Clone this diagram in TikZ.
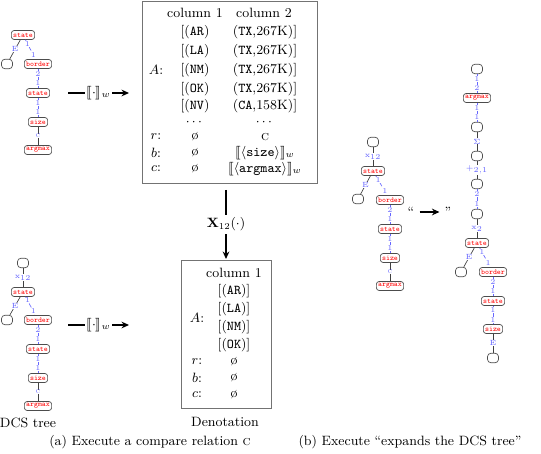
\documentclass[tikz,border=0pt]{standalone}
\usepackage{amsmath, amssymb}
\usepackage{stmaryrd}
\usetikzlibrary{arrows.meta}

\begin{document}
\begin{tikzpicture}[
    x=0.6667pt, y=-0.6667pt,
    font=\fontsize{9}{11}\selectfont,
    pred/.style={rectangle, rounded corners=1.8pt, draw=black!70, line width=0.45pt, text=red,
      font=\fontsize{5}{6}\selectfont\ttfamily, inner xsep=1.1pt, inner ysep=0.8pt, minimum height=6pt},
    emptynode/.style={rectangle, rounded corners=2.2pt, draw=black!70, line width=0.45pt,
      minimum width=7.3pt, minimum height=6.3pt, inner sep=0pt},
    rel/.style={draw=black!75, line width=0.45pt},
    joinrel/.style={draw=blue!60, line width=0.45pt, densely dashed},
    lbl/.style={text=blue!60, font=\fontsize{5}{5}\selectfont, fill=white, inner sep=0.3pt},
    arrow/.style={-{Stealth[length=5pt, width=4.5pt]}, line width=1pt},
    tablebox/.style={draw=black!55, line width=0.6pt},
    cell/.style={inner sep=0.8pt}
  ]
  \useasboundingbox (0,0) rectangle (541,454);

  % DCS tree (top)
  \node[pred] (s1) at (23,35) {state};
  \node[emptynode] (e1) at (7,64) {};
  \node[pred] (b1) at (38,64) {border};
  \node[pred] (s2) at (38,93) {state};
  \node[pred] (z1) at (38,122) {size};
  \node[pred] (a1) at (38,150) {argmax};
  \draw[rel] (s1) -- node[lbl] {E} (e1);
  \draw[joinrel] (s1) -- node[lbl, pos=0.2] {1} node[lbl, pos=0.8] {1} (b1);
  \draw[joinrel] (b1) -- node[lbl, pos=0.25] {2} node[lbl, pos=0.75] {1} (s2);
  \draw[joinrel] (s2) -- node[lbl, pos=0.25] {1} node[lbl, pos=0.75] {1} (z1);
  \draw[rel] (z1) -- node[lbl] {\textsc{c}} (a1);

  % DCS tree (bottom)
  \node[emptynode] (t0) at (23,263) {};
  \node[pred] (t1) at (23,292) {state};
  \node[emptynode] (t2) at (7,320) {};
  \node[pred] (t3) at (38,320) {border};
  \node[pred] (t4) at (38,349) {state};
  \node[pred] (t5) at (38,378) {size};
  \node[pred] (t6) at (38,406) {argmax};
  \draw[rel] (t0) -- node[lbl] {x$_{12}$} (t1);
  \draw[rel] (t1) -- node[lbl] {E} (t2);
  \draw[joinrel] (t1) -- node[lbl, pos=0.2] {1} node[lbl, pos=0.8] {1} (t3);
  \draw[joinrel] (t3) -- node[lbl, pos=0.25] {2} node[lbl, pos=0.75] {1} (t4);
  \draw[joinrel] (t4) -- node[lbl, pos=0.25] {1} node[lbl, pos=0.75] {1} (t5);
  \draw[rel] (t5) -- node[lbl] {\textsc{c}} (t6);
  \node[cell] (dcs) at (28,423) {DCS tree};

  % Evaluation arrows
  \coordinate (w1a) at (68,93);
  \coordinate (w1b) at (129,93);
  \draw[arrow] (w1a) -- node[fill=white, inner sep=1pt] {$\llbracket\cdot\rrbracket_w$} (w1b);
  \coordinate (w2a) at (68,325);
  \coordinate (w2b) at (129,325);
  \draw[arrow] (w2a) -- node[fill=white, inner sep=1pt] {$\llbracket\cdot\rrbracket_w$} (w2b);

  % Denotation before the compare
  \draw[tablebox] (142,1) rectangle (317,183);
  \node[cell] (h1) at (195,13) {column 1};
  \node[cell] (h2) at (264,13) {column 2};
  \node[cell] (la) at (156,70) {$A$:};
  \node[cell] (c11) at (195,32) {[(\texttt{AR})};
  \node[cell] (c12) at (195,51) {[(\texttt{LA})};
  \node[cell] (c13) at (195,70) {[(\texttt{NM})};
  \node[cell] (c14) at (195,89) {[(\texttt{OK})};
  \node[cell] (c15) at (195,106) {[(\texttt{NV})};
  \node[cell] (c21) at (265,32) {(\texttt{TX},267K)]};
  \node[cell] (c22) at (265,51) {(\texttt{TX},267K)]};
  \node[cell] (c23) at (265,70) {(\texttt{TX},267K)]};
  \node[cell] (c24) at (265,89) {(\texttt{TX},267K)]};
  \node[cell] (c25) at (265,106) {(\texttt{CA},158K)]};
  \node[cell, inner sep=0pt] (d1) at (195,122) {$\cdots$};
  \node[cell, inner sep=0pt] (d2) at (265,122) {$\cdots$};
  \node[cell] (lr) at (156,137) {$r$:};
  \node[cell] (lb) at (156,153) {$b$:};
  \node[cell] (lc) at (156,169) {$c$:};
  \node[cell] (r1) at (195,137) {\o};
  \node[cell] (b1v) at (195,153) {\o};
  \node[cell] (c1v) at (195,169) {\o};
  \node[cell] (r2) at (265,137) {\textsc{c}};
  \node[cell] (b2v) at (265,153) {$\llbracket\langle\texttt{size}\rangle\rrbracket_w$};
  \node[cell] (c2v) at (265,169) {$\llbracket\langle\texttt{argmax}\rangle\rrbracket_w$};

  % Execute
  \coordinate (xa) at (226,190);
  \coordinate (xb) at (226,259);
  \draw[arrow] (xa) -- node[fill=white, inner sep=2pt] {$\mathbf{X}_{12}(\cdot)$} (xb);

  % Denotation after the compare
  \draw[tablebox] (181,260) rectangle (271,408);
  \node[cell] (g0) at (234,273) {column 1};
  \node[cell] (ga) at (197,318) {$A$:};
  \node[cell] (g1) at (234,291) {[(\texttt{AR})]};
  \node[cell] (g2) at (234,309) {[(\texttt{LA})]};
  \node[cell] (g3) at (234,327) {[(\texttt{NM})]};
  \node[cell] (g4) at (234,345) {[(\texttt{OK})]};
  \node[cell] (gr) at (197,362) {$r$:};
  \node[cell] (gb) at (197,378) {$b$:};
  \node[cell] (gc) at (197,395) {$c$:};
  \node[cell] (gr1) at (234,362) {\o};
  \node[cell] (gb1) at (234,378) {\o};
  \node[cell] (gc1) at (234,395) {\o};
  \node[cell] (den) at (225,422) {Denotation};

  % DCS tree (middle)
  \node[emptynode] (m0) at (373,142) {};
  \node[pred] (m1) at (373,171) {state};
  \node[emptynode] (m2) at (358,199) {};
  \node[pred] (m3) at (390,200) {border};
  \node[pred] (m4) at (390,229) {state};
  \node[pred] (m5) at (390,258) {size};
  \node[pred] (m6) at (390,286) {argmax};
  \draw[rel] (m0) -- node[lbl] {x$_{12}$} (m1);
  \draw[rel] (m1) -- node[lbl] {E} (m2);
  \draw[joinrel] (m1) -- node[lbl, pos=0.2] {1} node[lbl, pos=0.8] {1} (m3);
  \draw[joinrel] (m3) -- node[lbl, pos=0.25] {2} node[lbl, pos=0.75] {1} (m4);
  \draw[joinrel] (m4) -- node[lbl, pos=0.25] {1} node[lbl, pos=0.75] {1} (m5);
  \draw[rel] (m5) -- node[lbl] {\textsc{c}} (m6);

  % Expansion
  \node (lq) at (411,212) {``};
  \node (rq) at (448,212) {''};
  \draw[arrow] (lq) -- (rq);

  % DCS tree (expanded)
  \node[emptynode] (n0) at (477,69) {};
  \node[pred] (n1) at (477,98) {argmax};
  \node[emptynode] (n2) at (477,127) {};
  \node[emptynode] (n3) at (477,156) {};
  \node[emptynode] (n4) at (477,184) {};
  \node[emptynode] (n5) at (477,214) {};
  \node[pred] (n6) at (477,243) {state};
  \node[emptynode] (n7) at (461,272) {};
  \node[pred] (n8) at (493,272) {border};
  \node[pred] (n9) at (493,301) {state};
  \node[pred] (n10) at (493,329) {size};
  \node[emptynode] (n11) at (493,358) {};
  \draw[joinrel] (n0) -- node[lbl, pos=0.25] {1} node[lbl, pos=0.75] {2} (n1);
  \draw[joinrel] (n1) -- node[lbl, pos=0.25] {1} node[lbl, pos=0.75] {1} (n2);
  \draw[rel] (n2) -- node[lbl] {$\Sigma$} (n3);
  \draw[rel] (n3) -- node[lbl] {$+_{2,1}$} (n4);
  \draw[joinrel] (n4) -- node[lbl, pos=0.25] {2} node[lbl, pos=0.75] {1} (n5);
  \draw[rel] (n5) -- node[lbl] {x$_{2}$} (n6);
  \draw[rel] (n6) -- node[lbl] {E} (n7);
  \draw[joinrel] (n6) -- node[lbl, pos=0.2] {1} node[lbl, pos=0.8] {1} (n8);
  \draw[joinrel] (n8) -- node[lbl, pos=0.25] {2} node[lbl, pos=0.75] {1} (n9);
  \draw[joinrel] (n9) -- node[lbl, pos=0.25] {1} node[lbl, pos=0.75] {1} (n10);
  \draw[rel] (n10) -- node[lbl] {E} (n11);

  % Captions
  \node (capa) at (150,442) {(a) Execute a compare relation \textsc{c}};
  \node (capb) at (410,442) {(b) Execute ``expands the DCS tree''};
\end{tikzpicture}
\end{document}
